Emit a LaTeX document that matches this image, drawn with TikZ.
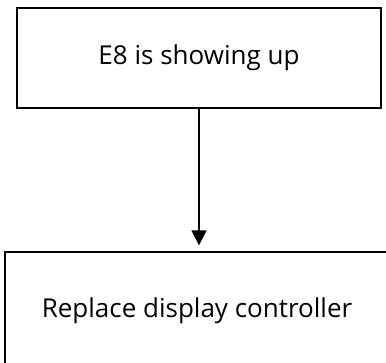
\documentclass[tikz,border=0pt]{standalone}
\usepackage{fontspec}
\setmainfont{Open Sans}
\usetikzlibrary{arrows.meta}

\tikzset{
  stepbox/.style={draw, line width=1.3pt, inner sep=0pt, font=\fontsize{26}{31}\selectfont},
  flow/.style={-{Triangle[width=15pt,length=15pt]}, line width=1.3pt, shorten >=6pt}
}

\begin{document}
\begin{tikzpicture}[x=1pt, y=-1pt]
      % Fix the page to the size of the reference
      \useasboundingbox (0,0) rectangle (386,362);

      % The message box at the top
      \node[stepbox, minimum width=364pt, minimum height=100pt] (error) at (199,58) {E8 is showing up};

      % The action box, cut off by the right and bottom edges
      \node[stepbox, minimum width=384pt, minimum height=118pt] (action) at (197,311) {Replace display controller};

      % Connect the two boxes
      \draw[flow] (error.south) -- (error.south |- action.north);
    \end{tikzpicture}
\end{document}
